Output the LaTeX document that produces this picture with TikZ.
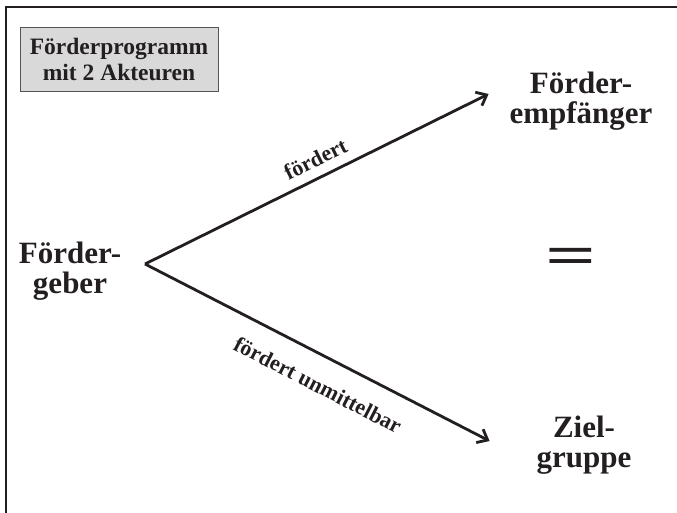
\documentclass[tikz,border=0pt]{standalone}
\usepackage{fontspec}
\setmainfont{Liberation Serif}
\usetikzlibrary{arrows.meta}
\usetikzlibrary{positioning,calc}
\definecolor{ink}{HTML}{231F20}
\definecolor{boxgray}{HTML}{D9D9D9}
\definecolor{boxline}{HTML}{555555}

\begin{document}
\begin{tikzpicture}[x=1pt, y=-1pt, ->, >={Straight Barb[length=9pt,width=15pt]}, line width=2.8pt, color=ink]
\tikzstyle{actor}=[font=\fontsize{31}{30}\selectfont\bfseries, align=center, text width=150pt, inner sep=0pt]
\tikzstyle{edgetext}=[font=\fontsize{22}{24}\selectfont\bfseries, sloped]
\tikzstyle{titlebox}=[draw=boxline, fill=boxgray, line width=0.8pt, minimum width=198pt, minimum height=64pt, align=center, inner sep=0pt, font=\fontsize{23.5}{26}\selectfont\bfseries]
\useasboundingbox (0,0) rectangle (677,512);
\clip (0,0) rectangle (677,512);
\draw[-, line width=2pt] (6,7) rectangle (700,540);

\node[titlebox] (5) at (119,59) {Förderprogramm\\mit 2 Akteuren};
\node[actor]   (1) at (70,271) {Förder-\\geber};
\node[actor]   (2) at (581,101) {Förder-\\empfänger};
\node[actor]   (3) at (584,445) {Ziel-\\gruppe};
\node[actor, font=\fontsize{56}{56}\selectfont\bfseries] (4) at (571,261) {\scalebox{1.6}[1]{=}};
\coordinate (0) at (145,264);

\path
(0) edge node[edgetext, above=6pt, pos=0.52] {fördert} ([xshift=-16pt,yshift=7pt]2.west)
(0) edge node[edgetext, below=16pt, pos=0.54] {fördert unmittelbar} ([xshift=-18pt,yshift=4pt]3.west)
;
\end{tikzpicture}
\end{document}
